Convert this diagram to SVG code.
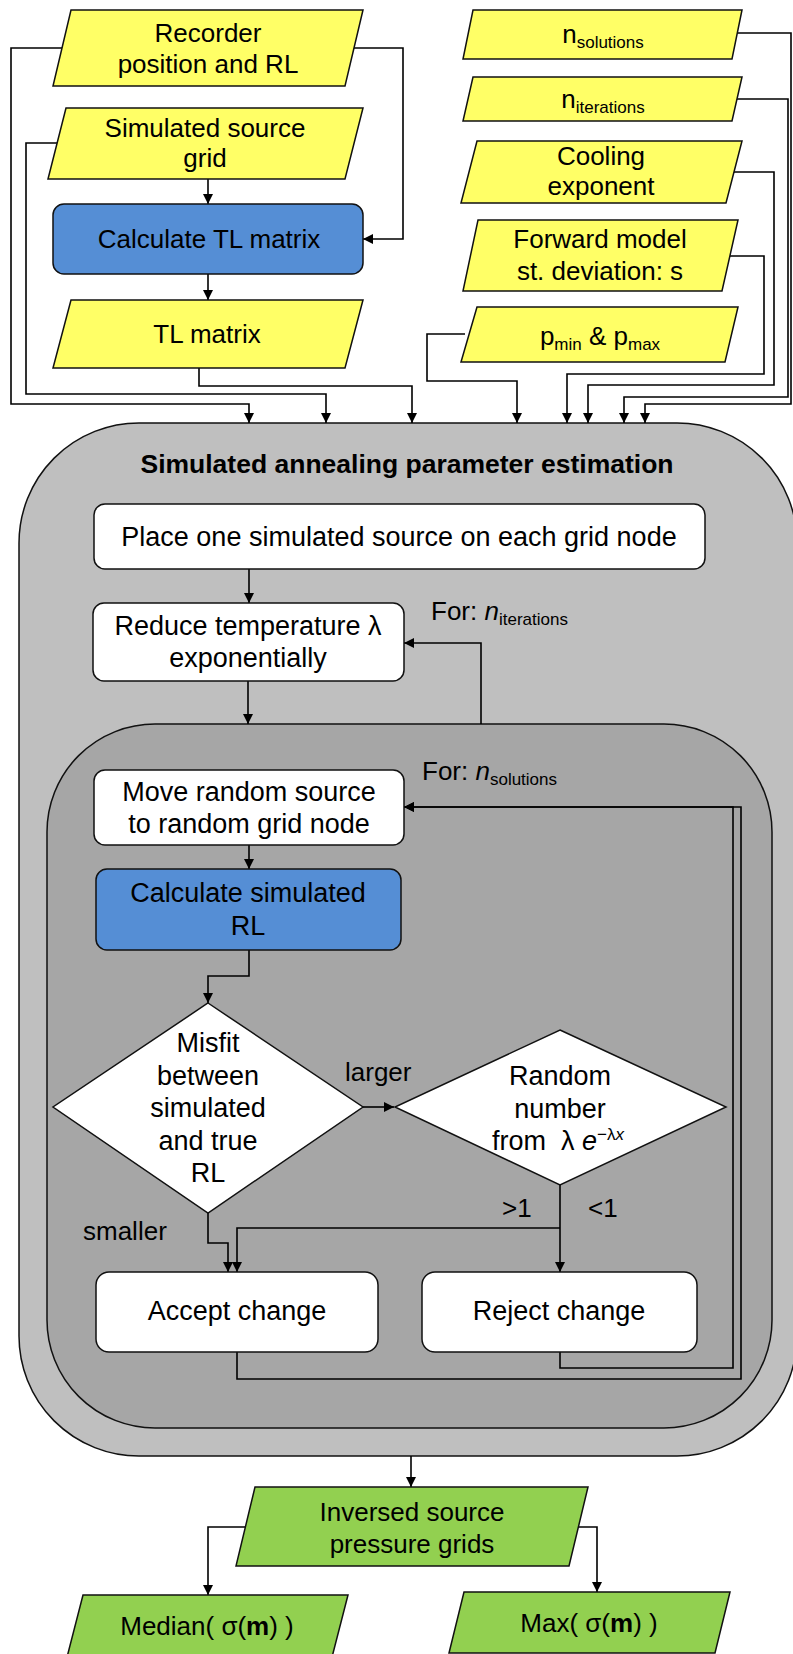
<svg xmlns="http://www.w3.org/2000/svg" width="793" height="1654" viewBox="0 0 793 1654">
  <defs>
    <marker id="ah" viewBox="0 0 10 10" refX="10" refY="5" markerWidth="10" markerHeight="10" markerUnits="userSpaceOnUse" orient="auto">
      <path d="M0,0 L10,5 L0,10 z" fill="#000"/>
    </marker>
    <style>
      .io { fill: #FFFF66; stroke: #111; stroke-width: 1.5; }
      .out { fill: #92D050; stroke: #111; stroke-width: 1.5; }
      .calc { fill: #558ED5; stroke: #111; stroke-width: 1.5; }
      .step { fill: #FFFFFF; stroke: #111; stroke-width: 1.5; }
      .outer { fill: #BFBFBF; stroke: #111; stroke-width: 1.5; }
      .inner { fill: #A6A6A6; stroke: #111; stroke-width: 1.5; }
      .con path { fill: none; stroke: #000; stroke-width: 1.6; }
      .arr { marker-end: url(#ah); }
      text { font-family: "Liberation Sans", Arial, sans-serif; font-size: 26px; fill: #000; }
      .c { text-anchor: middle; }
      .in { font-size: 27px; }
      .title { font-weight: bold; font-size: 26.5px; }
      .sub { font-size: 17px; }
    </style>
  </defs>

  <!-- Containers -->
  <g id="sa-outer">
    <rect class="outer" x="19" y="423" width="778" height="1033" rx="120" ry="120"/>
    <text class="c title" x="407" y="473">Simulated annealing parameter estimation</text>
  </g>
  <g id="sa-inner">
    <rect class="inner" x="47" y="724" width="725" height="704" rx="108" ry="108"/>
  </g>

  <!-- Connectors -->
  <g id="connectors" class="con">
    <path class="arr" d="M62,48 H11 V404 H249 V423"/>
    <path class="arr" d="M354,48 H403 V239 H363"/>
    <path class="arr" d="M57,143 H26 V394 H326 V423"/>
    <path class="arr" d="M208,179 V204"/>
    <path class="arr" d="M208,274 V300"/>
    <path class="arr" d="M199,368 V386 H412 V423"/>
    <path class="arr" d="M737,33 H791 V404 H645 V423"/>
    <path class="arr" d="M737,99 H788 V397 H624 V423"/>
    <path class="arr" d="M734,172 H774 V385 H588 V423"/>
    <path class="arr" d="M730,256 H764 V374 H567 V423"/>
    <path class="arr" d="M465,334 H427 V381 H517 V423"/>

    <path class="arr" d="M249,569 V603"/>
    <path class="arr" d="M248,681 V724"/>
    <path class="arr" d="M481,724 V643 H404"/>
    <path class="arr" d="M249,845 V869"/>
    <path class="arr" d="M249,950 V976 H208 V1003"/>
    <path class="arr" d="M363,1107 H394"/>
    <path class="arr" d="M208,1213 V1243 H228 V1272"/>
    <path class="arr" d="M560,1185 V1272"/>
    <path class="arr" d="M560,1228 H237 V1272"/>
    <path class="arr" d="M237,1352 V1379 H741 V807 H404"/>
    <path class="arr" d="M560,1352 V1368 H733 V807 H404"/>

    <path class="arr" d="M411,1456 V1487"/>
    <path class="arr" d="M245,1527 H208 V1595"/>
    <path class="arr" d="M578,1527 H597 V1592"/>
  </g>

  <!-- Inputs, left column -->
  <g id="recorder">
    <polygon class="io" points="71,10 363,10 345,86 53,86"/>
    <text class="c" x="208" y="42">Recorder</text>
    <text class="c" x="208" y="73">position and RL</text>
  </g>
  <g id="source-grid">
    <polygon class="io" points="66,108 363,108 345,179 48,179"/>
    <text class="c" x="205" y="137">Simulated source</text>
    <text class="c" x="205" y="167">grid</text>
  </g>
  <g id="calc-tl">
    <rect class="calc" x="53" y="204" width="310" height="70" rx="11"/>
    <text class="c" x="209" y="248">Calculate TL matrix</text>
  </g>
  <g id="tl-matrix">
    <polygon class="io" points="71,300 363,300 345,368 53,368"/>
    <text class="c" x="207" y="343">TL matrix</text>
  </g>

  <!-- Inputs, right column -->
  <g id="n-solutions">
    <polygon class="io" points="473,10 742,10 732,59 463,59"/>
    <text class="c" x="603" y="43">n<tspan class="sub" dy="5">solutions</tspan></text>
  </g>
  <g id="n-iterations">
    <polygon class="io" points="473,77 742,77 732,121 463,121"/>
    <text class="c" x="603" y="108">n<tspan class="sub" dy="5">iterations</tspan></text>
  </g>
  <g id="cooling">
    <polygon class="io" points="477,141 742,141 726,203 461,203"/>
    <text class="c" x="601" y="165">Cooling</text>
    <text class="c" x="601" y="195">exponent</text>
  </g>
  <g id="forward-sd">
    <polygon class="io" points="478,220 738,220 722,291 463,291"/>
    <text class="c" x="600" y="248">Forward model</text>
    <text class="c" x="600" y="280">st. deviation: s</text>
  </g>
  <g id="p-range">
    <polygon class="io" points="477,307 738,307 725,362 461,362"/>
    <text class="c" x="600" y="345">p<tspan class="sub" dy="5">min</tspan><tspan dy="-5"> &amp; p</tspan><tspan class="sub" dy="5">max</tspan></text>
  </g>

  <!-- Annealing loop -->
  <g id="place-sources">
    <rect class="step" x="94" y="504" width="611" height="65" rx="11"/>
    <text class="c in" x="399" y="546">Place one simulated source on each grid node</text>
  </g>
  <g id="reduce-temp">
    <rect class="step" x="93" y="603" width="311" height="78" rx="11"/>
    <text class="c in" x="248" y="635">Reduce temperature λ</text>
    <text class="c in" x="248" y="667">exponentially</text>
  </g>
  <g id="label-iterations">
    <text x="431" y="620">For: <tspan font-style="italic">n</tspan><tspan class="sub" dy="5">iterations</tspan></text>
  </g>
  <g id="move-source">
    <rect class="step" x="94" y="770" width="310" height="75" rx="11"/>
    <text class="c in" x="249" y="801">Move random source</text>
    <text class="c in" x="249" y="833">to random grid node</text>
  </g>
  <g id="label-solutions">
    <text x="422" y="780">For: <tspan font-style="italic">n</tspan><tspan class="sub" dy="5">solutions</tspan></text>
  </g>
  <g id="calc-rl">
    <rect class="calc" x="96" y="869" width="305" height="81" rx="11"/>
    <text class="c in" x="248" y="902">Calculate simulated</text>
    <text class="c in" x="248" y="935">RL</text>
  </g>
  <g id="misfit">
    <polygon class="step" points="208,1003 363,1107 208,1213 53,1107"/>
    <text class="c in" x="208" y="1052">Misfit</text>
    <text class="c in" x="208" y="1085">between</text>
    <text class="c in" x="208" y="1117">simulated</text>
    <text class="c in" x="208" y="1150">and true</text>
    <text class="c in" x="208" y="1182">RL</text>
  </g>
  <g id="random-number">
    <polygon class="step" points="560,1030 726,1107 560,1185 395,1107"/>
    <text class="c in" x="560" y="1085">Random</text>
    <text class="c in" x="560" y="1118">number</text>
    <text class="c in" x="558" y="1150" xml:space="preserve">from  λ <tspan font-style="italic">e</tspan><tspan class="sub" dy="-10">−λ<tspan font-style="italic">x</tspan></tspan></text>
  </g>
  <g id="branch-labels">
    <text x="345" y="1081">larger</text>
    <text x="83" y="1240">smaller</text>
    <text x="502" y="1217">&gt;1</text>
    <text x="588" y="1217">&lt;1</text>
  </g>
  <g id="accept">
    <rect class="step" x="96" y="1272" width="282" height="80" rx="13"/>
    <text class="c in" x="237" y="1320">Accept change</text>
  </g>
  <g id="reject">
    <rect class="step" x="422" y="1272" width="275" height="80" rx="13"/>
    <text class="c in" x="559" y="1320">Reject change</text>
  </g>

  <!-- Outputs -->
  <g id="pressure-grids">
    <polygon class="out" points="255,1487 588,1487 569,1566 236,1566"/>
    <text class="c" x="412" y="1521">Inversed source</text>
    <text class="c" x="412" y="1553">pressure grids</text>
  </g>
  <g id="median">
    <polygon class="out" points="83,1595 348,1595 330,1665 65,1665"/>
    <text class="c" x="207" y="1635">Median( σ(<tspan font-weight="bold">m</tspan>) )</text>
  </g>
  <g id="max">
    <polygon class="out" points="464,1592 730,1592 715,1653 449,1653"/>
    <text class="c" x="589" y="1632">Max( σ(<tspan font-weight="bold">m</tspan>) )</text>
  </g>
</svg>
